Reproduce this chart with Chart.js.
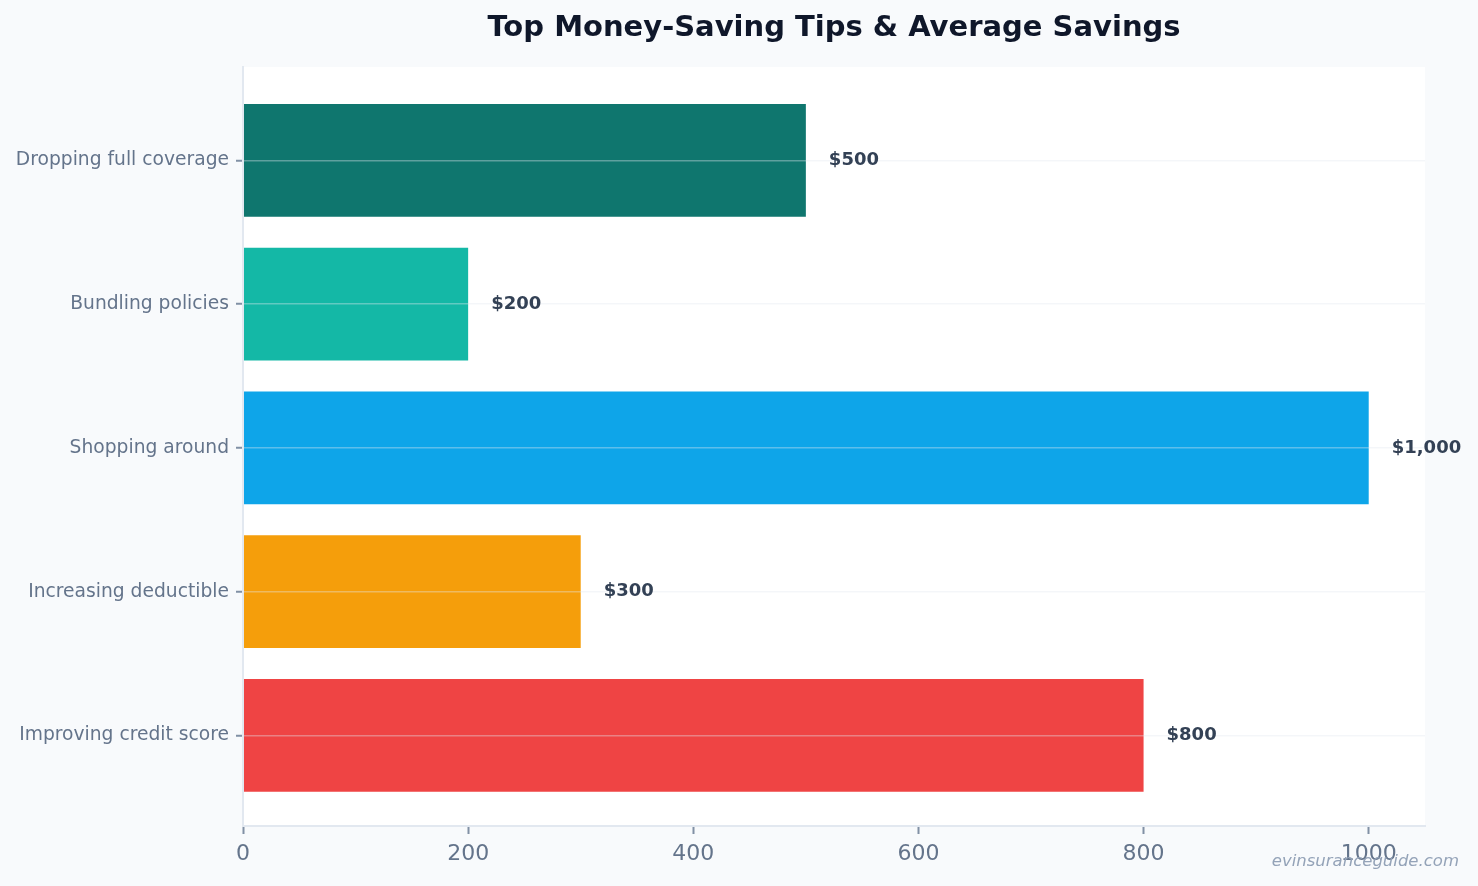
<!DOCTYPE html>
<html>
<head>
<meta charset="utf-8">
<script src="https://cdn.jsdelivr.net/npm/chart.js@4.4.1/dist/chart.umd.min.js"></script>
<style>
  html, body { margin: 0; padding: 0; background: #f8fafc; }
  #wrap { width: 1478px; height: 886px; position: relative; }
</style>
</head>
<body>
<div id="wrap"><canvas id="c"></canvas></div>
<script>
const categories = ["Dropping full coverage", "Bundling policies", "Shopping around", "Increasing deductible", "Improving credit score"];
const savings = [500, 200, 1000, 300, 800];
const barColors = ["#0f766e", "#14b8a6", "#0ea5e9", "#f59e0b", "#ef4444"];
const xTicks = [0, 200, 400, 600, 800, 1000];
const titleText = "Top Money-Saving Tips & Average Savings";
const watermark = "evinsuranceguide.com";

const FONT = "'DejaVu Sans', sans-serif";

const plotBg = {
  id: 'plotBg',
  beforeDraw(chart) {
    const {ctx, chartArea: a} = chart;
    ctx.save();
    ctx.fillStyle = '#ffffff';
    ctx.fillRect(a.left, a.top, a.right - a.left, a.bottom - a.top);
    ctx.restore();
  }
};

const valueLabels = {
  id: 'valueLabels',
  afterDraw(chart) {
    const {ctx} = chart;
    const meta = chart.getDatasetMeta(0);
    ctx.save();
    ctx.font = "bold 18px " + FONT;
    ctx.fillStyle = '#334155';
    ctx.textAlign = 'left';
    ctx.textBaseline = 'middle';
    meta.data.forEach((bar, i) => {
      ctx.fillText('$' + savings[i].toLocaleString('en-US'), bar.x + 23, bar.y);
    });
    ctx.font = "italic 16.5px " + FONT;
    ctx.fillStyle = '#94a3b8';
    ctx.textAlign = 'right';
    ctx.fillText(watermark, 1459, 862);
    ctx.restore();
  }
};

new Chart(document.getElementById('c'), {
  type: 'bar',
  data: {
    datasets: [{
      data: savings.map((v, i) => ({x: v, y: i})),
      backgroundColor: barColors,
      borderWidth: 0,
      barPercentage: 0.785,
      categoryPercentage: 1.0
    }]
  },
  options: {
    indexAxis: 'y',
    responsive: true,
    maintainAspectRatio: false,
    animation: false,
    layout: { padding: { left: 0, right: 53, top: 0, bottom: 0 } },
    plugins: {
      legend: { display: false },
      tooltip: { enabled: false },
      title: {
        display: true,
        text: titleText,
        fullSize: false,
        color: '#0f172a',
        font: { family: FONT, size: 29, weight: 'bold' },
        padding: { top: 11, bottom: 21.2 }
      }
    },
    scales: {
      x: {
        type: 'linear',
        min: 0,
        max: 1050,
        afterBuildTicks(scale) { scale.ticks = xTicks.map(v => ({value: v})); },
        afterFit(scale) { scale.height = 60; },
        grid: { display: true, drawOnChartArea: false, drawTicks: true, tickLength: 8, tickColor: '#8190a5', tickWidth: 2 },
        border: { display: true, color: '#e2e8f0', width: 2 },
        ticks: { color: '#64748b', font: { family: FONT, size: 22 }, padding: 7, callback: (v) => String(v) }
      },
      y: {
        type: 'linear',
        reverse: true,
        offset: false,
        min: -0.65,
        max: 4.63,
        afterBuildTicks(scale) { scale.ticks = categories.map((c, i) => ({value: i})); },
        afterFit(scale) { scale.width = 243; },
        grid: { display: true, offset: false, z: 1, color: 'rgba(226,232,240,0.38)', lineWidth: 1.5, drawTicks: true, tickLength: 7, tickColor: '#8190a5', tickWidth: 2 },
        border: { display: true, z: 1, color: '#e2e8f0', width: 2 },
        ticks: {
          color: '#64748b',
          font: { family: FONT, size: 18.7 },
          padding: 7,
          callback: (v) => categories[v]
        }
      }
    }
  },
  plugins: [plotBg, valueLabels]
});
</script>
</body>
</html>
